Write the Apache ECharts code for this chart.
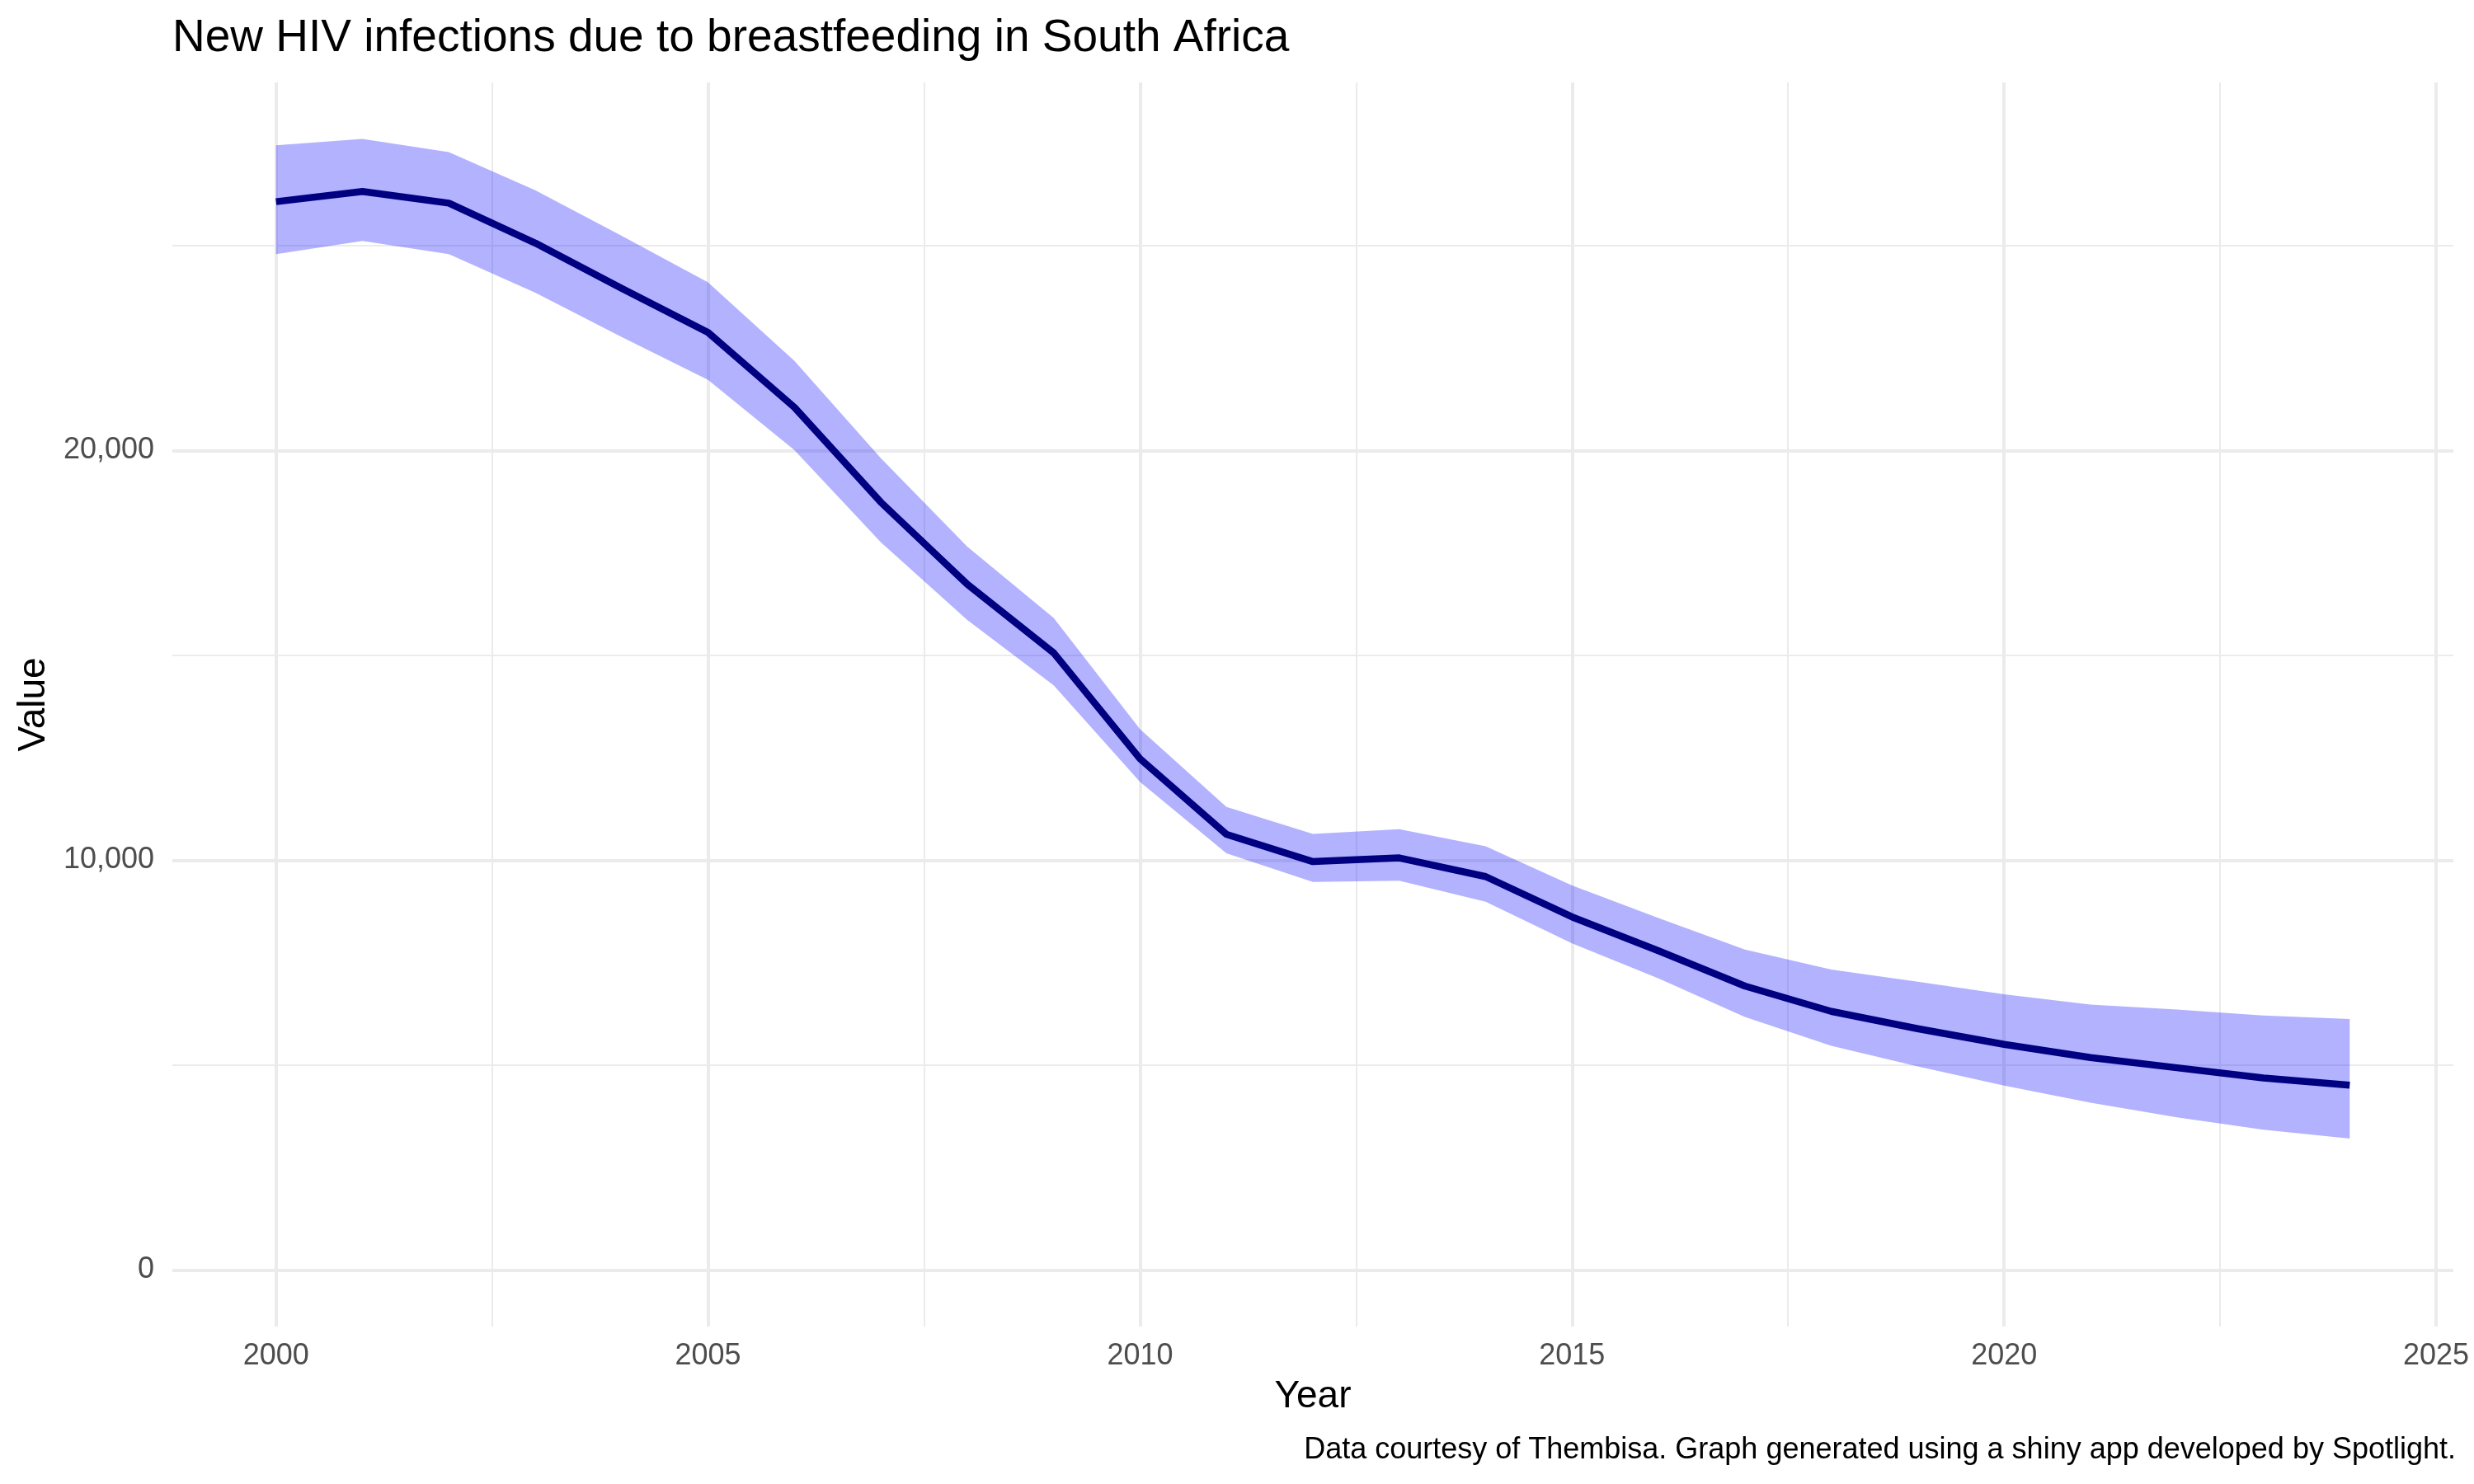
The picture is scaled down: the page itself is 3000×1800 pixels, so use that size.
<!DOCTYPE html>
<html>
<head>
<meta charset="utf-8">
<title>New HIV infections due to breastfeeding in South Africa</title>
<script src="https://cdn.jsdelivr.net/npm/echarts@6/dist/echarts.min.js"></script>
<style>
  html, body { margin: 0; padding: 0; background: #ffffff; }
  #chart { width: 3000px; height: 1800px; }
</style>
</head>
<body>
<div id="chart"></div>
<script>
// values
const years = [2000, 2001, 2002, 2003, 2004, 2005, 2006, 2007, 2008, 2009, 2010, 2011, 2012,
               2013, 2014, 2015, 2016, 2017, 2018, 2019, 2020, 2021, 2022, 2023, 2024];
const central = [26070, 26320, 26035, 25060, 23955, 22880, 21050, 18735, 16735, 15060, 12475, 10630, 9965,
                 10057, 9600, 8615, 7790, 6930, 6310, 5888, 5505, 5183, 4935, 4686, 4512];
const upper = [27445, 27600, 27280, 26350, 25240, 24100, 22185, 19810, 17655, 15915, 13195, 11300, 10640,
               10755, 10340, 9385, 8590, 7820, 7330, 7036, 6727, 6479, 6358, 6210, 6123];
const lower = [24790, 25110, 24790, 23850, 22770, 21720, 20005, 17760, 15860, 14270, 11910, 10170, 9470,
               9500, 8985, 7970, 7115, 6175, 5470, 4968, 4498, 4082, 3726, 3424, 3209];

const xMajor = [2000, 2005, 2010, 2015, 2020, 2025];
const xMinor = [2002.5, 2007.5, 2012.5, 2017.5, 2022.5];
const yMajor = [0, 10000, 20000];
const yMinor = [5000, 15000, 25000];

const FONT = '"Liberation Sans", Arial, Helvetica, sans-serif';
const GRID_COLOR = '#EBEBEB';
const X_MIN = 1998.8, X_MAX = 2025.2;
const Y_MIN = -1380, Y_MAX = 28980;

const chart = echarts.init(document.getElementById('chart'));

function fmtThousands(v) {
    return String(v).replace(/\B(?=(\d{3})+(?!\d))/g, ',');
}

// ribbon: one polygon, upper edge forward then lower edge back
function renderRibbon(params, api) {
    const pts = [];
    for (let i = 0; i < years.length; i++) {
        pts.push(api.coord([years[i], upper[i]]));
    }
    for (let i = years.length - 1; i >= 0; i--) {
        pts.push(api.coord([years[i], lower[i]]));
    }
    return {
        type: 'polygon',
        shape: { points: pts },
        style: { fill: 'rgba(0, 0, 255, 0.3)', stroke: null }
    };
}

const option = {
    backgroundColor: '#ffffff',
    animation: false,
    title: [{
        text: 'New HIV infections due to breastfeeding in South Africa',
        left: 209,
        top: 19,
        padding: 0,
        textStyle: { fontFamily: FONT, fontSize: 55, fontWeight: 'normal', color: '#000000' }
    }, {
        text: 'Data courtesy of Thembisa. Graph generated using a shiny app developed by Spotlight.',
        right: 22,
        top: 1741,
        padding: 0,
        textStyle: { fontFamily: FONT, fontSize: 36, fontWeight: 'normal', color: '#000000' }
    }],
    grid: {
        left: 209,
        right: 25,
        top: 100,
        bottom: 191,
        containLabel: false,
        outerBoundsMode: 'none'
    },
    xAxis: [{
        type: 'value',
        min: X_MIN,
        max: X_MAX,
        name: 'Year',
        nameLocation: 'middle',
        nameGap: 62,
        nameTextStyle: { fontFamily: FONT, fontSize: 46, color: '#000000' },
        axisLine: { show: false, onZero: false },
        axisTick: { show: false, customValues: xMajor },
        axisLabel: {
            customValues: xMajor,
            margin: 18,
            fontFamily: FONT,
            fontSize: 36,
            color: '#4D4D4D',
            formatter: v => String(v)
        },
        splitLine: { show: true, lineStyle: { color: GRID_COLOR, width: 4 } }
    }, {
        type: 'value',
        min: X_MIN,
        max: X_MAX,
        position: 'bottom',
        axisLine: { show: false, onZero: false },
        axisTick: { show: false, customValues: xMinor },
        axisLabel: { show: false, customValues: xMinor },
        splitLine: { show: true, lineStyle: { color: GRID_COLOR, width: 2 } }
    }],
    yAxis: [{
        type: 'value',
        min: Y_MIN,
        max: Y_MAX,
        name: 'Value',
        nameLocation: 'middle',
        nameGap: 145,
        nameTextStyle: { fontFamily: FONT, fontSize: 46, color: '#000000' },
        axisLine: { show: false, onZero: false },
        axisTick: { show: false, customValues: yMajor },
        axisLabel: {
            customValues: yMajor,
            margin: 22,
            fontFamily: FONT,
            fontSize: 36,
            color: '#4D4D4D',
            formatter: v => fmtThousands(v)
        },
        splitLine: { show: true, lineStyle: { color: GRID_COLOR, width: 4 } }
    }, {
        type: 'value',
        min: Y_MIN,
        max: Y_MAX,
        position: 'left',
        axisLine: { show: false, onZero: false },
        axisTick: { show: false, customValues: yMinor },
        axisLabel: { show: false, customValues: yMinor },
        splitLine: { show: true, lineStyle: { color: GRID_COLOR, width: 2 } }
    }],
    series: [
        {
            name: 'band',
            type: 'custom',
            silent: true,
            renderItem: renderRibbon,
            data: [0],
            z: 2
        },
        {
            name: 'Value',
            type: 'line',
            symbol: 'none',
            z: 5,
            lineStyle: { color: '#000080', width: 8.5, join: 'round', cap: 'butt' },
            data: years.map((y, i) => [y, central[i]])
        }
    ]
};

chart.setOption(option);
</script>
</body>
</html>
